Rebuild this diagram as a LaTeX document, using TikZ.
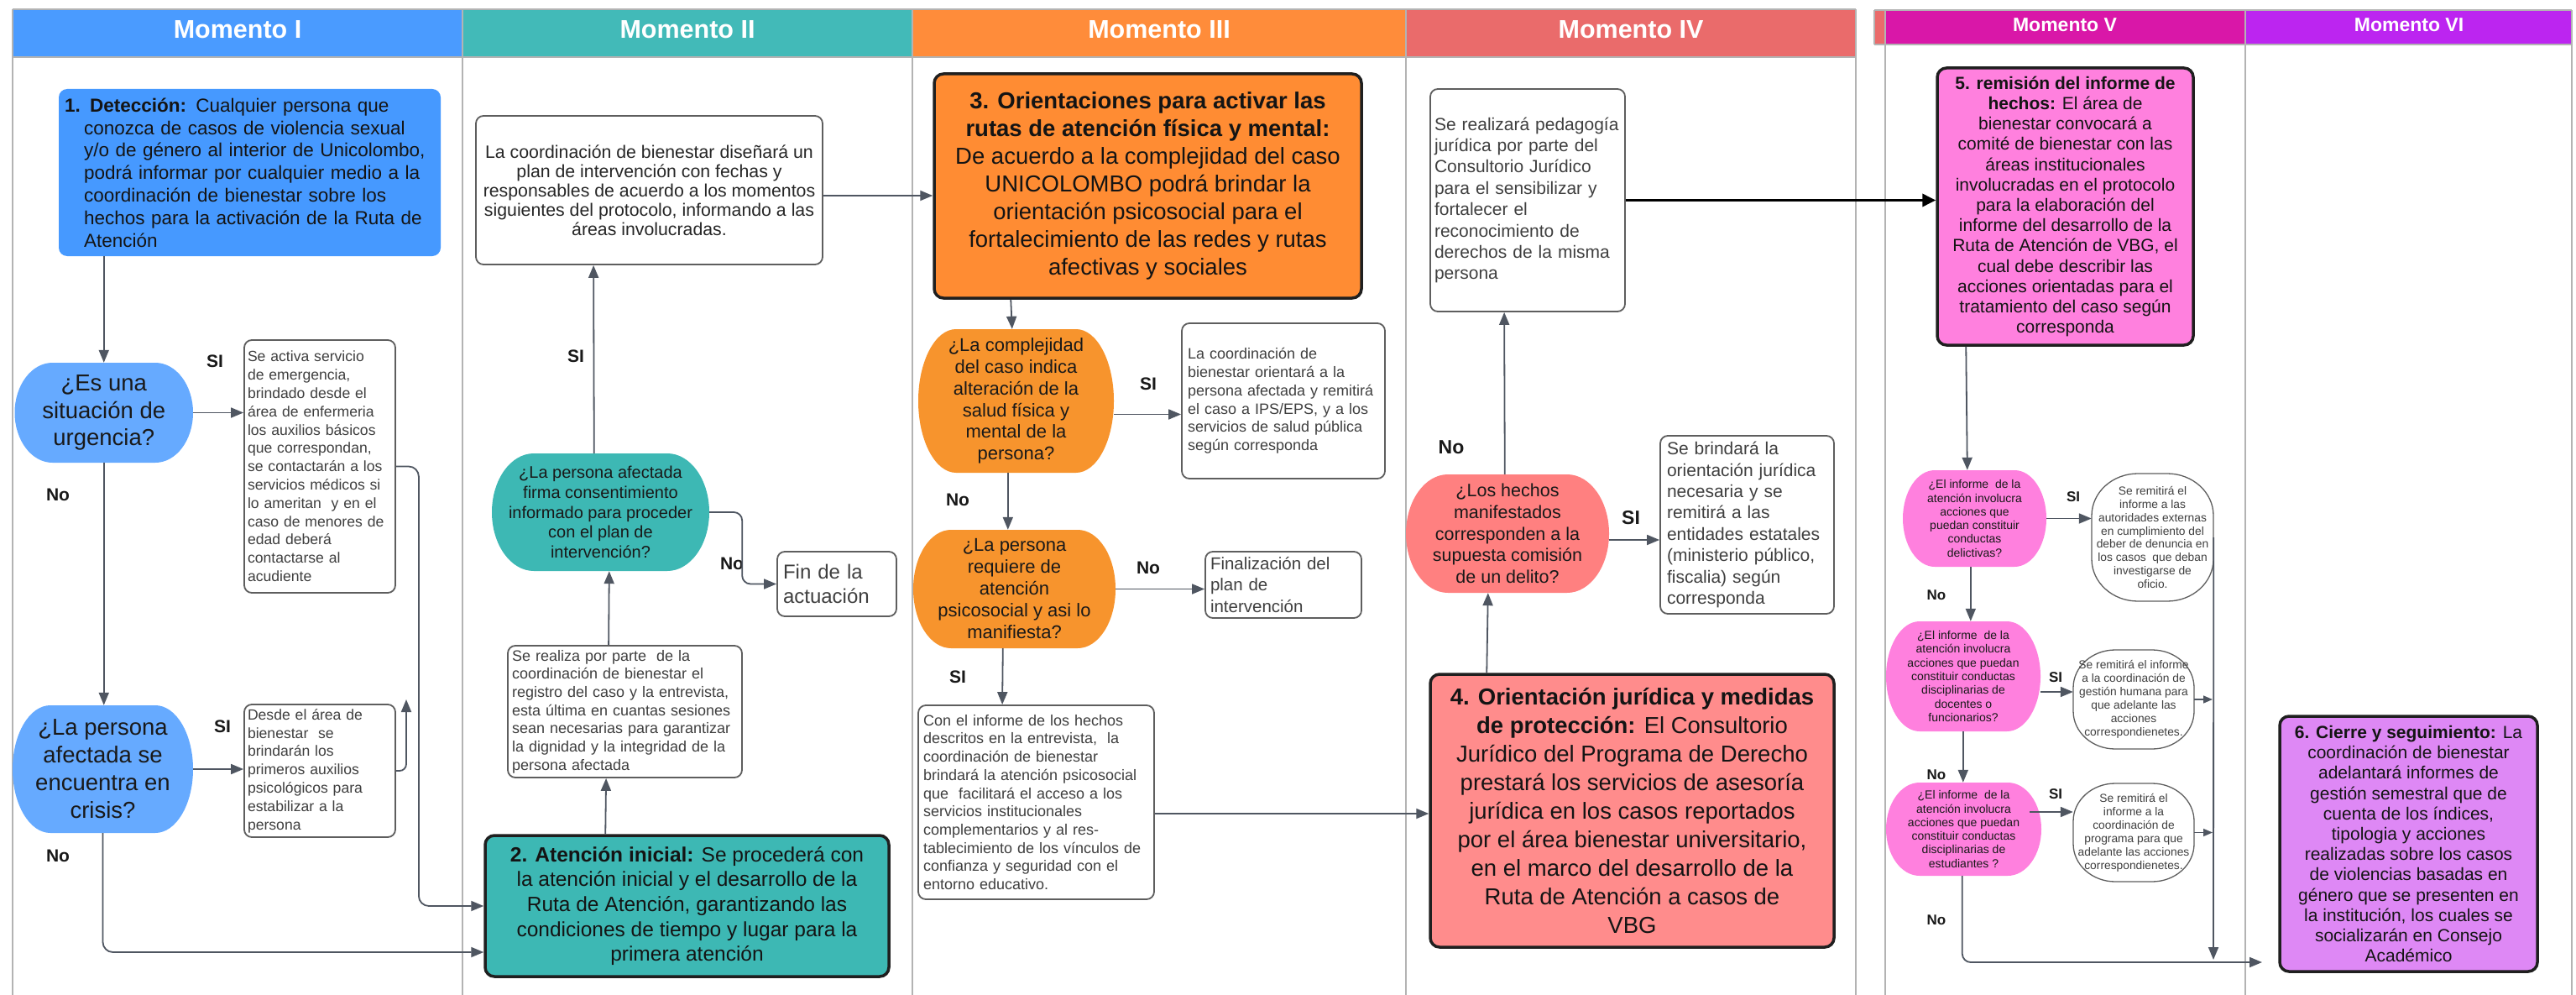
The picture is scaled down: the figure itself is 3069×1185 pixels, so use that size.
\documentclass[tikz,border=0pt]{standalone}
\usepackage{fontspec}
\setmainfont{Liberation Sans}
\usetikzlibrary{arrows.meta,calc}
\definecolor{lanegray}{HTML}{B3B3B3}
\definecolor{boxgray}{HTML}{5E5E5E}
\definecolor{txtgray}{HTML}{3F3F3F}
\definecolor{conngray}{HTML}{4F5661}
\definecolor{cHI}{HTML}{4A9BFF}
\definecolor{cHII}{HTML}{42BAB8}
\definecolor{cHIII}{HTML}{FF8C3A}
\definecolor{cHIV}{HTML}{EA6B6B}
\definecolor{cHV}{HTML}{D917A8}
\definecolor{cHVI}{HTML}{BC25F0}
\definecolor{cBone}{HTML}{4699FF}
\definecolor{cDecBlue}{HTML}{66AAFF}
\definecolor{cTeal}{HTML}{3DB8B4}
\definecolor{cOr}{HTML}{FF8C33}
\definecolor{cOrD}{HTML}{F7942D}
\definecolor{cSal}{HTML}{FF8C8C}
\definecolor{cSalD}{HTML}{FF8080}
\definecolor{cPink}{HTML}{FF80DE}
\definecolor{cLav}{HTML}{DE88F5}
\newcommand\fs[2]{\fontsize{#1}{#2}\selectfont}
% rounded shape with elliptical corners: #1 style, x1 y1 x2 y2, rx ry
\newcommand\ovfill[7]{%
\path[#1] ({#2+#6},#3) -- ({#4-#6},#3) .. controls ({#4-0.448*#6},#3) and (#4,{#3+0.448*#7}) .. (#4,{#3+#7})
 -- (#4,{#5-#7}) .. controls (#4,{#5-0.448*#7}) and ({#4-0.448*#6},#5) .. ({#4-#6},#5)
 -- ({#2+#6},#5) .. controls ({#2+0.448*#6},#5) and (#2,{#5-0.448*#7}) .. (#2,{#5-#7})
 -- (#2,{#3+#7}) .. controls (#2,{#3+0.448*#7}) and ({#2+0.448*#6},#3) .. ({#2+#6},#3) -- cycle;}
\tikzset{
 lane/.style={draw=lanegray, line width=2.5pt},
 htext/.style={text=white, font=\bfseries\fs{30.5}{34}, inner sep=0pt},
 htextsm/.style={text=white, font=\bfseries\fs{23}{26}, inner sep=0pt},
 gbox/.style={draw=boxgray, line width=1.8pt, rounded corners=9pt, fill=white, text=txtgray, align=left, inner sep=0pt},
 kbox/.style={draw=black!88, line width=3.5pt, rounded corners=11pt, text=black!92, align=center, inner sep=0pt},
 bonebox/.style={fill=cBone, rounded corners=10pt, text=black!92, align=left, inner sep=0pt},
 dec/.style={inner sep=0pt, align=center, text=black!90},
 ovtext/.style={inner sep=0pt, align=center, text=txtgray},
 conn/.style={draw=conngray, line width=1.8pt, -{Triangle[length=15pt,width=12pt]}},
 smallconn/.style={draw=conngray, line width=1.5pt, -{Triangle[length=11pt,width=9pt]}},
 thickconn/.style={draw=black, line width=3.5pt, -{Triangle[length=16pt,width=15pt]}},
 lbl/.style={font=\bfseries\fs{21}{24}, text=black!90, inner sep=0pt},
 lblbig/.style={font=\bfseries\fs{23}{26}, text=black!90, inner sep=0pt},
 lblsm/.style={font=\bfseries\fs{17}{20}, text=black!90, inner sep=0pt},
}
\begin{document}
\begin{tikzpicture}[x=1pt,y=-1pt]
\useasboundingbox (0,0) rectangle (3069,1185);
\fill[white] (0,0) rectangle (3069,1185);

% ---------- headers ----------
\fill[cHI] (15,11) rectangle (551,68);
\fill[cHII] (551,11) rectangle (1087,68);
\fill[cHIII] (1087,11) rectangle (1675,68);
\fill[cHIV] (1675,11) rectangle (2211,68);
\fill[cHIV] (2233,12) rectangle (2246,53);
\fill[cHV] (2246,12) rectangle (2675,53);
\fill[cHVI] (2675,12) rectangle (3064,53);
\draw[lane] (15,11) -- (2211,11);
\draw[lane] (15,68) -- (2211,68);
\draw[lane] (2233,12) -- (3064,12);
\draw[lane] (2233,53) -- (3064,53);
\draw[lane] (2233,12) -- (2233,53);
\foreach \xx in {15,551,1087,1675,2211} {\draw[lane] (\xx,11) -- (\xx,1185);}
\foreach \xx in {2246,2675,3064} {\draw[lane] (\xx,12) -- (\xx,1185);}
\node[htext] (m1) at (283,35) {Momento I};
\node[htext] (m2) at (819,35) {Momento II};
\node[htext] (m3) at (1381,35) {Momento III};
\node[htext] (m4) at (1943,35) {Momento IV};
\node[htextsm] (m5) at (2460,30) {Momento V};
\node[htextsm] (m6) at (2870,30) {Momento VI};

% ---------- Momento I ----------
\node[bonebox, text width=441pt, inner xsep=7pt, minimum height=199pt, font=\fs{22.5}{26.8}] (b1) at (297.5,205.5)
 {\textbf{1. Detección:} Cualquier persona que\\\hspace*{23pt}conozca de casos de violencia sexual\\\hspace*{23pt}y/o de género al interior de Unicolombo,\\\hspace*{23pt}podrá informar por cualquier medio a la\\\hspace*{23pt}coordinación de bienestar sobre los\\\hspace*{23pt}hechos para la activación de la Ruta de\\\hspace*{23pt}Atención};

\ovfill{fill=cDecBlue}{17.5}{432}{230}{551}{45}{59.5}
\node[dec, minimum width=212.5pt, minimum height=119pt, font=\fs{27.5}{32.5}] (d1) at (123.75,491.5) {¿Es una\\situación de\\urgencia?};

\ovfill{fill=cDecBlue}{15}{840}{230}{992}{45}{76}
\node[dec, minimum width=215pt, minimum height=152pt, font=\fs{27.5}{33}] (d2) at (122.5,916) {¿La persona\\afectada se\\encuentra en\\crisis?};

\node[gbox, text width=172pt, inner xsep=4pt, minimum height=301pt, font=\fs{17.6}{21.8}] (s1) at (381,555.5)
 {Se activa servicio\\de emergencia,\\brindado desde el\\área de enfermeria\\los auxilios básicos\\que correspondan,\\se contactarán a los\\servicios médicos si\\lo ameritan~ y en el\\caso de menores de\\edad deberá\\contactarse al\\acudiente};

\node[gbox, text width=172pt, inner xsep=4pt, minimum height=158pt, font=\fs{17.6}{21.8}] (s2) at (381,918)
 {Desde el área de\\bienestar~ se\\brindarán los\\primeros auxilios\\psicológicos para\\estabilizar a la\\persona};

\node[lbl] (l1) at (256,430) {SI};
\node[lbl] (l2) at (69,589) {No};
\node[lbl] (l3) at (265,865) {SI};
\node[lbl] (l4) at (69,1019) {No};

% ---------- Momento II ----------
\node[gbox, align=center, text=black!85, minimum width=413pt, minimum height=177pt, font=\fs{21.3}{23}] (p1) at (773.5,226.5)
 {La coordinación de bienestar diseñará un\\plan de intervención con fechas y\\responsables de acuerdo a los momentos\\siguientes del protocolo, informando a las\\áreas involucradas.};

\ovfill{fill=cTeal}{586}{540}{845}{680}{50}{70}
\node[dec, minimum width=259pt, minimum height=140pt, font=\fs{20}{23.8}] (d3) at (715.5,610)
 {¿La persona afectada\\firma consentimiento\\informado para proceder\\con el plan de\\intervención?};

\node[gbox, text width=269pt, inner xsep=5pt, minimum height=157pt, font=\fs{18}{21.7}] (r1) at (744.5,847.5)
 {Se realiza por parte~ de la\\coordinación de bienestar el\\registro del caso y la entrevista,\\esta última en cuantas sesiones\\sean necesarias para garantizar\\la dignidad y la integridad de la\\persona afectada};

\node[kbox, fill=cTeal, minimum width=481pt, minimum height=168pt, font=\fs{24.5}{29.7}] (b2) at (818.5,1079)
 {\textbf{2. Atención inicial:} Se procederá con\\la atención inicial y el desarrollo de la\\Ruta de Atención, garantizando las\\condiciones de tiempo y lugar para la\\primera atención};

\node[gbox, text width=128pt, inner xsep=7pt, minimum height=77pt, font=\fs{24}{29}] (f1) at (997,695.5) {Fin de la\\actuación};

\node[lbl] (l5) at (686,424) {SI};
\node[lbl] (l6) at (872,671) {No};

% ---------- Momento III ----------
\node[kbox, fill=cOr, minimum width=509pt, minimum height=267pt, font=\fs{27.5}{33}] (b3) at (1367.5,221.5)
 {\textbf{3. Orientaciones para activar las}\\\textbf{rutas de atención física y mental:}\\De acuerdo a la complejidad del caso\\UNICOLOMBO podrá brindar la\\orientación psicosocial para el\\fortalecimiento de las redes y rutas\\afectivas y sociales};

\ovfill{fill=cOrD}{1094}{392}{1327}{563}{45}{85.5}
\node[dec, minimum width=233pt, minimum height=171pt, font=\fs{22}{25.7}] (d4) at (1210.5,477.5)
 {¿La complejidad\\del caso indica\\alteración de la\\salud física y\\mental de la\\persona?};

\node[gbox, text width=228pt, inner xsep=7pt, minimum height=185pt, font=\fs{18}{21.8}] (o1) at (1529,477.5)
 {La coordinación de\\bienestar orientará a la\\persona afectada y remitirá\\el caso a IPS/EPS, y a los\\servicios de salud pública\\según corresponda};

\ovfill{fill=cOrD}{1088}{631}{1329}{772}{45}{70.5}
\node[dec, minimum width=241pt, minimum height=141pt, font=\fs{22}{26}] (d5) at (1208.5,701.5)
 {¿La persona\\requiere de\\atención\\psicosocial y asi lo\\manifiesta?};

\node[gbox, text width=174pt, inner xsep=6pt, minimum height=79pt, font=\fs{20.5}{25.5}] (f2) at (1529,696.5)
 {Finalización del\\plan de\\intervención};

\node[gbox, text width=269pt, inner xsep=6pt, minimum height=231pt, font=\fs{18}{21.7}] (c1) at (1234.5,955.5)
 {Con el informe de los hechos\\descritos en la entrevista,~ la\\coordinación de bienestar\\brindará la atención psicosocial\\que~ facilitará el acceso a los\\servicios institucionales\\complementarios y al res-\\tablecimiento de los vínculos de\\confianza y seguridad con el\\entorno educativo.};

\node[lbl] (l7) at (1368,457) {SI};
\node[lbl] (l8) at (1141,595) {No};
\node[lbl] (l9) at (1368,676) {No};
\node[lbl] (l10) at (1141,806) {SI};

% ---------- Momento IV ----------
\node[gbox, text width=222pt, inner xsep=5pt, minimum height=265pt, font=\fs{21}{25.4}] (pg) at (1820,238.5)
 {Se realizará pedagogía\\jurídica por parte del\\Consultorio Jurídico\\para el sensibilizar y\\fortalecer el\\reconocimiento de\\derechos de la misma\\persona};

\ovfill{fill=cSalD}{1675}{565}{1917}{706}{50}{70.5}
\node[dec, minimum width=242pt, minimum height=141pt, font=\fs{21.5}{25.7}] (d6) at (1796,635.5)
 {¿Los hechos\\manifestados\\corresponden a la\\supuesta comisión\\de un delito?};

\node[gbox, text width=191pt, inner xsep=8pt, minimum height=212pt, font=\fs{21}{25.4}] (j1) at (2081.5,625)
 {Se brindará la\\orientación jurídica\\necesaria y se\\remitirá a las\\entidades estatales\\(ministerio público,\\fiscalia) según\\corresponda};

\node[kbox, fill=cSal, minimum width=481pt, minimum height=325pt, font=\fs{27.5}{34}] (b4) at (1944.5,965.5)
 {\textbf{4. Orientación jurídica y medidas}\\\textbf{de protección:} El Consultorio\\Jurídico del Programa de Derecho\\prestará los servicios de asesoría\\jurídica en los casos reportados\\por el área bienestar universitario,\\en el marco del desarrollo de la\\Ruta de Atención a casos de\\VBG};

\node[lblbig] (l11) at (1729,533) {No};
\node[lblbig] (l12) at (1943,617) {SI};

% ---------- Momento V ----------
\node[kbox, fill=cPink, minimum width=305pt, minimum height=330pt, font=\fs{21}{24.2}] (b5) at (2460.5,246)
 {\textbf{5. remisión del informe de}\\\textbf{hechos:} El área de\\bienestar convocará a\\comité de bienestar con las\\áreas institucionales\\involucradas en el protocolo\\para la elaboración del\\informe del desarrollo de la\\Ruta de Atención de VBG, el\\cual debe describir las\\acciones orientadas para el\\tratamiento del caso según\\corresponda};

\ovfill{fill=cPink}{2267}{560}{2438}{675}{38}{57.5}
\node[dec, minimum width=171pt, minimum height=115pt, font=\fs{14}{16.3}] (d7) at (2352.5,617.5)
 {¿El informe~ de la\\atención involucra\\acciones que\\puedan constituir\\conductas\\delictivas?};

\ovfill{draw=boxgray, line width=1.3pt, fill=white}{2492}{564}{2637}{716}{55}{50}
\node[ovtext, minimum width=145pt, minimum height=152pt, font=\fs{13.8}{15.9}] (v1) at (2564.5,640)
 {Se remitirá el\\informe a las\\autoridades externas\\en cumplimiento del\\deber de denuncia en\\los casos~ que deban\\investigarse de\\oficio.};

\ovfill{fill=cPink}{2247}{740}{2431}{871}{40}{65.5}
\node[dec, minimum width=184pt, minimum height=131pt, font=\fs{14}{16.3}] (d8) at (2339,805.5)
 {¿El informe~ de la\\atención involucra\\acciones que puedan\\constituir conductas\\disciplinarias de\\docentes o\\funcionarios?};

\ovfill{draw=boxgray, line width=1.3pt, fill=white}{2470}{774}{2614}{892}{50}{45}
\node[ovtext, minimum width=144pt, minimum height=118pt, font=\fs{13.8}{16}] (v2) at (2542,833)
 {Se remitirá el informe\\a la coordinación de\\gestión humana para\\que adelante las\\acciones\\correspondienetes.};

\ovfill{fill=cPink}{2247}{932}{2432}{1043}{40}{55.5}
\node[dec, minimum width=185pt, minimum height=111pt, font=\fs{14}{16.3}] (d9) at (2339.5,987.5)
 {¿El informe~ de la\\atención involucra\\acciones que puedan\\constituir conductas\\disciplinarias de\\estudiantes ?};

\ovfill{draw=boxgray, line width=1.3pt, fill=white}{2470}{933}{2614}{1050}{50}{45}
\node[ovtext, minimum width=144pt, minimum height=117pt, font=\fs{13.8}{16}] (v3) at (2542,991.5)
 {Se remitirá el\\informe a la\\coordinación de\\programa para que\\adelante las acciones\\correspondienetes.};

\node[lblsm] (l13) at (2470,592) {SI};
\node[lblsm] (l14) at (2307,709) {No};
\node[lblsm] (l15) at (2449,807) {SI};
\node[lblsm] (l16) at (2307,923) {No};
\node[lblsm] (l17) at (2449,946) {SI};
\node[lblsm] (l18) at (2307,1096) {No};

% ---------- Momento VI ----------
\node[kbox, fill=cLav, minimum width=307pt, minimum height=304pt, font=\fs{21}{24.2}] (b6) at (2869.5,1005)
 {\textbf{6. Cierre y seguimiento:} La\\coordinación de bienestar\\adelantará informes de\\gestión semestral que de\\cuenta de los índices,\\tipologia y acciones\\realizadas sobre los casos\\de violencias basadas en\\género que se presenten en\\la institución, los cuales se\\socializarán en Consejo\\Académico};

% ---------- connectors ----------
\coordinate (s2up) at (484,833);
\coordinate (vbot) at (2637,1143);
\coordinate (vl2) at (2636,833);
\coordinate (vl3) at (2636,991.5);
\coordinate (e6) at (2695,1146);

\draw[conn] (b1.south -| d1.north) -- (d1.north);
\draw[conn] (d1.east) -- (d1.east -| s1.west);
\draw[conn, rounded corners=12pt] (s1.east) -- ++(27,0) |- (b2.west);
\draw[conn] (d1.south) -- (d1.south |- d2.north);
\draw[conn] (d2.east) -- (d2.east -| s2.west);
\draw[conn, rounded corners=8pt] (s2.east) -| (s2up);
\draw[conn, rounded corners=12pt] (d2.south) |- ($(b2.west)+(0,55)$);

\draw[conn] ($(b2.north west)+(145,0)$) -- ($(r1.south west)+(118,0)$);
\draw[conn] ($(r1.north west)+(121,0)$) -- ($(d3.south west)+(140,0)$);
\draw[conn] ($(d3.north west)+(122,0)$) -- ($(p1.south west)+(141,0)$);
\draw[conn] ($(p1.east)+(0,6.5)$) -- ($(b3.west)+(0,11.5)$);
\draw[conn, rounded corners=10pt] (d3.east) -- ++(39,0) |- (f1.west);

\draw[conn] ($(b3.south west)+(93,0)$) -- ($(d4.north west)+(112,0)$);
\draw[conn] ($(d4.east)+(0,16)$) -- ($(o1.west)+(0,16)$);
\draw[conn] ($(d4.south west)+(107,0)$) -- ($(d5.north west)+(113,0)$);
\draw[conn] (d5.east) -- (d5.east -| f2.west);
\draw[conn] ($(d5.south west)+(107,0)$) -- ($(c1.north west)+(101,0)$);
\draw[conn] ($(c1.east)+(0,13.5)$) -- ($(b4.west)+(0,3.5)$);

\draw[conn] ($(b4.north west)+(69,0)$) -- ($(d6.south west)+(98,0)$);
\draw[conn] ($(d6.east)+(0,7.5)$) -- ($(j1.west)+(0,18)$);
\draw[conn] ($(d6.north west)+(118,0)$) -- ($(pg.south west)+(89,0)$);
\draw[thickconn] (pg.east) -- (pg.east -| b5.west);

\draw[conn] ($(b5.south west)+(36,0)$) -- ($(d7.north west)+(77,0)$);
\draw[conn] (d7.east) -- (d7.east -| v1.west);
\draw[conn] ($(d7.south west)+(81,0)$) -- ($(d8.north west)+(101,0)$);
\draw[conn] ($(d8.east)+(0,18.5)$) -- ($(v2.west)+(0,-9)$);
\draw[conn] ($(d8.south west)+(92,0)$) -- ($(d9.north west)+(92,0)$);
\draw[conn] ($(d9.east)+(-14,-20.5)$) -- ($(v3.west)+(0,-24.5)$);
\draw[smallconn] (v2.east) -- (vl2);
\draw[smallconn] (v3.east) -- (vl3);
\draw[conn] (v1.east) -- (vbot);
\draw[conn, rounded corners=10pt] ($(d9.south west)+(91,0)$) |- (e6);
\end{tikzpicture}
\end{document}
